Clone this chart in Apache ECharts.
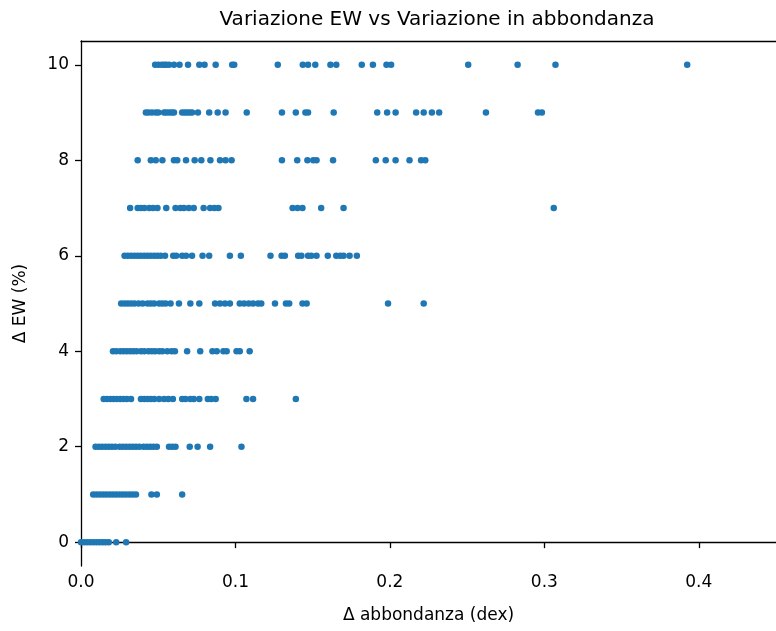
<!DOCTYPE html>
<html>
<head>
<meta charset="utf-8">
<script src="https://cdn.jsdelivr.net/npm/echarts@6/dist/echarts.min.js"></script>
<style>
  html, body { margin: 0; padding: 0; background: #fff; }
  #chart { width: 776px; height: 631px; }
</style>
</head>
<body>
<div id="chart"></div>
<script>
// Δ EW levels (%), one row of points per level
const ewLevels = [0, 1, 2, 3, 4, 5, 6, 7, 8, 9, 10]

// Δ abbondanza (dex), row by row
const abund0 = [0.000, 0.002, 0.004, 0.006, 0.008, 0.010, 0.012, 0.014, 0.016, 0.018, 0.0228, 0.0292]
const abund1 = [0.0079, 0.0100, 0.0122, 0.0143, 0.0164, 0.0186, 0.0207, 0.0228, 0.0250, 0.0271, 0.0292,
  0.0314, 0.0335, 0.0356, 0.0456, 0.0491, 0.0655]
const abund2 = [0.0094, 0.0115, 0.0136, 0.0158, 0.0179, 0.0200, 0.0222, 0.0250, 0.0271, 0.0292, 0.0314,
  0.0335, 0.0356, 0.0378, 0.0405, 0.0427, 0.0448, 0.0469, 0.0491, 0.0570, 0.0591, 0.0612, 0.0704,
  0.0755, 0.0836, 0.1039]
const abund3 = [0.0147, 0.0168, 0.0190, 0.0211, 0.0232, 0.0254, 0.0275, 0.0296, 0.0324, 0.0388, 0.0410,
  0.0431, 0.0452, 0.0474, 0.0506, 0.0538, 0.0565, 0.0595, 0.0655, 0.0676, 0.0708, 0.0730, 0.0766,
  0.0821, 0.0843, 0.0872, 0.1071, 0.1114, 0.1391]
const abund4 = [0.0207, 0.0228, 0.0254, 0.0275, 0.0296, 0.0318, 0.0339, 0.0360, 0.0388, 0.0410, 0.0437,
  0.0459, 0.0480, 0.0506, 0.0527, 0.0559, 0.0587, 0.0608, 0.0687, 0.0772, 0.0851, 0.0879, 0.0922,
  0.0943, 0.1007, 0.1028, 0.1092]
const abund5 = [0.0260, 0.0282, 0.0303, 0.0324, 0.0346, 0.0373, 0.0399, 0.0431, 0.0452, 0.0474, 0.0506,
  0.0527, 0.0548, 0.0580, 0.0634, 0.0708, 0.0766, 0.0868, 0.0900, 0.0932, 0.0964, 0.1028, 0.1056,
  0.1086, 0.1114, 0.1146, 0.1167, 0.1256, 0.1327, 0.1348, 0.1434, 0.1461, 0.1988, 0.2219]
const abund6 = [0.0282, 0.0303, 0.0324, 0.0346, 0.0367, 0.0388, 0.0410, 0.0431, 0.0452, 0.0474, 0.0495,
  0.0516, 0.0544, 0.0597, 0.0616, 0.0655, 0.0680, 0.0719, 0.0787, 0.0830, 0.0964, 0.1035, 0.1227,
  0.1299, 0.1320, 0.1406, 0.1427, 0.1470, 0.1491, 0.1525, 0.1598, 0.1653, 0.1679, 0.1700, 0.1739, 0.1786]
const abund7 = [0.0318, 0.0367, 0.0388, 0.0410, 0.0442, 0.0467, 0.0495, 0.0552, 0.0612, 0.0644, 0.0666,
  0.0698, 0.0730, 0.0794, 0.0836, 0.0864, 0.0890, 0.1370, 0.1402, 0.1434, 0.1555, 0.1700, 0.3061]
const abund8 = [0.0367, 0.0452, 0.0484, 0.0527, 0.0602, 0.0623, 0.0680, 0.0736, 0.0779, 0.0838, 0.0900,
  0.0936, 0.0975, 0.1301, 0.1400, 0.1466, 0.1504, 0.1525, 0.1632, 0.1909, 0.1973, 0.2037, 0.2127,
  0.2202, 0.2229]
const abund9 = [0.0420, 0.0437, 0.0459, 0.0484, 0.0501, 0.0538, 0.0552, 0.0570, 0.0587, 0.0602, 0.0655,
  0.0672, 0.0687, 0.0704, 0.0719, 0.0757, 0.0830, 0.0885, 0.0936, 0.1073, 0.1301, 0.1391, 0.1453,
  0.1470, 0.1636, 0.1918, 0.1982, 0.2037, 0.2170, 0.2219, 0.2272, 0.2319, 0.2622, 0.2959, 0.2984]
const abund10 = [0.0480, 0.0501, 0.0523, 0.0538, 0.0552, 0.0570, 0.0602, 0.0638, 0.0693, 0.0766, 0.0800,
  0.0872, 0.0979, 0.0992, 0.1274, 0.1436, 0.1470, 0.1517, 0.1615, 0.1653, 0.1818, 0.1890, 0.1978,
  0.2008, 0.2507, 0.2827, 0.3072, 0.3925]

const xTicks = [0, 0.1, 0.2, 0.3, 0.4]
const yTicks = [0, 2, 4, 6, 8, 10]

const rows = [abund0, abund1, abund2, abund3, abund4, abund5, abund6, abund7, abund8, abund9, abund10]
const points = []
rows.forEach((row, i) => {
  row.forEach(v => points.push([v, ewLevels[i]]))
})

const font = 'DejaVu Sans'
const spine = { show: true, lineStyle: { color: '#000', width: 1.3 } }

const chart = echarts.init(document.getElementById('chart'), null, { renderer: 'canvas' })
chart.setOption({
  animation: false,
  backgroundColor: '#fff',
  title: {
    text: 'Variazione EW vs Variazione in abbondanza',
    left: 432,
    top: 5,
    textAlign: 'center',
    textStyle: { fontFamily: font, fontSize: 20, fontWeight: 'normal', color: '#000' }
  },
  grid: { left: 81, right: -8, top: 41, bottom: 65 },
  xAxis: [{
    type: 'value',
    min: 0,
    max: 0.45,
    interval: 0.1,
    position: 'bottom',
    name: 'Δ abbondanza (dex)',
    nameLocation: 'middle',
    nameGap: 41,
    nameTextStyle: { fontFamily: font, fontSize: 17, color: '#000' },
    axisLine: spine,
    axisTick: { show: true, length: 6, lineStyle: { color: '#000', width: 1.3 }, customValues: xTicks },
    axisLabel: {
      fontFamily: font, fontSize: 17, color: '#000', margin: 8,
      customValues: xTicks,
      formatter: v => v.toFixed(1)
    },
    splitLine: { show: false }
  }, {
    type: 'value',
    min: 0,
    max: 0.45,
    position: 'top',
    axisLine: spine,
    axisTick: { show: false },
    axisLabel: { show: false },
    splitLine: { show: false }
  }],
  yAxis: {
    type: 'value',
    min: -0.5,
    max: 10.5,
    name: 'Δ EW (%)',
    nameLocation: 'middle',
    nameGap: 52,
    nameTextStyle: { fontFamily: font, fontSize: 17, color: '#000' },
    axisLine: spine,
    axisTick: { show: true, length: 6, lineStyle: { color: '#000', width: 1.3 }, customValues: yTicks },
    axisLabel: { fontFamily: font, fontSize: 17, color: '#000', margin: 12, customValues: yTicks },
    splitLine: { show: false }
  },
  series: [{
    type: 'scatter',
    xAxisIndex: 0,
    data: points,
    symbolSize: 6.5,
    itemStyle: { color: '#1f77b4', opacity: 1 }
  }]
})
</script>
</body>
</html>
